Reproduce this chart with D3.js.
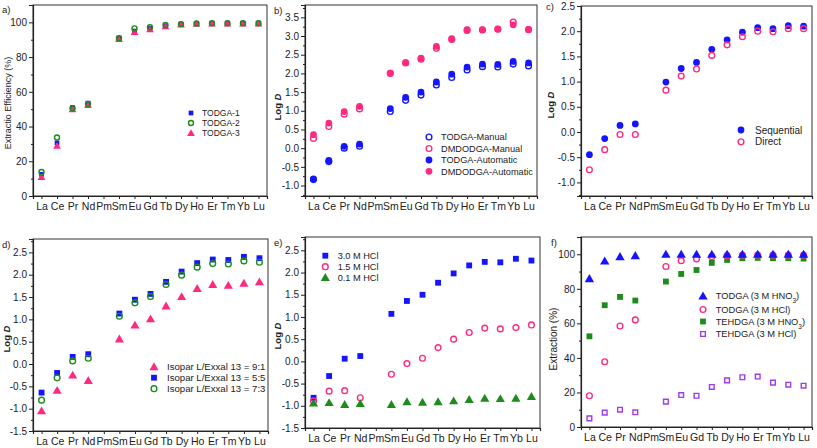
<!DOCTYPE html>
<html><head><meta charset="utf-8">
<script src="https://cdn.jsdelivr.net/npm/d3@7"></script>
<style>
html,body{margin:0;padding:0;background:#fff;}
text{font-family:"Liberation Sans",Arial,sans-serif;fill:#222;}
</style></head>
<body>
<svg id="chart" width="817" height="448"></svg>
<script>
const categories = ["La","Ce","Pr","Nd","Pm","Sm","Eu","Gd","Tb","Dy","Ho","Er","Tm","Yb","Lu"];

// a) Extraction efficiency (%)
const aTodga1 = [12.5, 30.6, 51, 53.5, null, 91, 95, 96.5, 98, 99, 99.3, 99.5, 99.5, 99.5, 99.5];
const aTodga2 = [13.8, 33.7, 50.5, 53, null, 90.8, 96.5, 97.2, 98.5, 99, 99.3, 99.5, 99.5, 99.5, 99.5];
const aTodga3 = [11, 29, 50, 52.5, null, 90.5, 94.5, 96, 97.8, 98.8, 99.2, 99.4, 99.4, 99.4, 99.4];

// b) Log D manual vs automatic
const bTodgaManual = [-0.84, -0.36, 0.0, 0.05, null, 0.98, 1.28, 1.42, 1.69, 1.89, 2.09, 2.18, 2.17, 2.25, 2.2];
const bDmdodgaManual = [0.26, 0.58, 0.91, 1.05, null, 2.0, 2.28, 2.38, 2.67, 2.91, 3.15, 3.16, 3.18, 3.37, 3.17];
const bTodgaAuto = [-0.82, -0.33, 0.05, 0.11, null, 1.06, 1.36, 1.5, 1.77, 1.98, 2.17, 2.25, 2.24, 2.32, 2.28];
const bDmdodgaAuto = [0.36, 0.67, 0.98, 1.12, null, 2.01, 2.29, 2.41, 2.72, 2.93, 3.17, 3.17, 3.19, 3.3, 3.18];

// c) Sequential vs direct
const cSequential = [-0.45, -0.13, 0.13, 0.16, null, 0.99, 1.26, 1.38, 1.64, 1.83, 1.98, 2.07, 2.05, 2.11, 2.1];
const cDirect = [-0.75, -0.35, -0.05, -0.05, null, 0.83, 1.11, 1.25, 1.52, 1.73, 1.89, 2.0, 1.99, 2.05, 2.05];

// d) Diluent ratio
const dRatio91 = [-1.05, -0.59, -0.25, -0.37, null, 0.56, 0.87, 1.01, 1.3, 1.51, 1.69, 1.78, 1.76, 1.81, 1.84];
const dRatio55 = [-0.64, -0.2, 0.16, 0.22, null, 1.13, 1.44, 1.57, 1.84, 2.07, 2.26, 2.34, 2.33, 2.4, 2.37];
const dRatio73 = [-0.81, -0.31, 0.07, 0.13, null, 1.07, 1.37, 1.51, 1.78, 1.99, 2.17, 2.25, 2.24, 2.31, 2.28];

// e) HCl concentration
const eHcl30 = [-0.82, -0.33, 0.06, 0.12, null, 1.07, 1.36, 1.5, 1.77, 1.98, 2.16, 2.24, 2.23, 2.31, 2.27];
const eHcl15 = [-0.89, -0.67, -0.66, -0.82, null, -0.29, -0.05, 0.07, 0.31, 0.5, 0.65, 0.75, 0.73, 0.76, 0.82];
const eHcl01 = [-0.94, -0.93, -0.97, -0.95, null, -0.97, -0.91, -0.92, -0.91, -0.89, -0.86, -0.83, -0.84, -0.83, -0.79];

// f) Extraction (%)
const fTodgaHno3 = [85.9, 96.1, 98.6, 99.2, null, 100, 100, 100, 100, 100, 100, 100, 100, 100, 100];
const fTodgaHcl = [18.1, 37.8, 58.5, 62, null, 92.9, 96.3, 97.3, 98.6, 99.2, 99.5, 99.5, 99.5, 99.5, 99.5];
const fTehdgaHno3 = [52.5, 70.5, 75.3, 73.2, null, 84.2, 88.6, 90.9, 95, 96.7, 97.7, 97.9, 97.7, 97.7, 97.5];
const fTehdgaHcl = [5.0, 8.3, 10.0, 8.5, null, 14.7, 18.5, 18.1, 23.2, 27, 28.8, 29.2, 25.7, 24.5, 23.9];

const BLUE = "#1414ff", PINK = "#ff2a80", GREEN = "#1c8c1c", PURPLE = "#9b3cf0";

const svg = d3.select("#chart");

function symPath(shape, size) {
  const t = shape === "circle" ? d3.symbolCircle : shape === "square" ? d3.symbolSquare : d3.symbolTriangle;
  return d3.symbol().type(t).size(size)();
}

function drawMarker(g, x, y, s) {
  const p = g.append("path").attr("d", symPath(s.shape, s.size))
    .attr("transform", `translate(${x},${y})` + (s.shape === "triangle" ? " translate(0,0.8)" : ""));
  if (s.open) p.attr("fill", "none").attr("stroke", s.color).attr("stroke-width", 1.4);
  else p.attr("fill", s.color).attr("stroke", "none");
}

function panel(cfg) {
  const g = svg.append("g");
  const x = d3.scalePoint().domain(categories).range([cfg.left, cfg.right]).padding(0.55);
  const y = d3.scaleLinear().domain(cfg.yDomain).range([cfg.bottom, cfg.top]);

  g.append("rect").attr("x", cfg.left).attr("y", cfg.top)
    .attr("width", cfg.right - cfg.left).attr("height", cfg.bottom - cfg.top)
    .attr("fill", "none").attr("stroke", "#333").attr("stroke-width", 1);

  const yMinor = d3.axisLeft(y).tickValues(cfg.yMinor).tickSize(2).tickFormat("");
  g.append("g").attr("transform", `translate(${cfg.left},0)`).call(yMinor)
    .call(a => a.select(".domain").remove())
    .call(a => a.selectAll("line").attr("stroke", "#222"));
  const yAxis = d3.axisLeft(y).tickValues(cfg.yMajor).tickSize(4).tickPadding(2).tickFormat(cfg.yFormat);
  g.append("g").attr("transform", `translate(${cfg.left},0)`).call(yAxis)
    .call(a => a.select(".domain").attr("stroke", "#222").attr("stroke-width", 1.2))
    .call(a => a.selectAll("line").attr("stroke", "#222"))
    .call(a => a.selectAll("text").attr("font-size", 10).attr("fill", "#222")
      .attr("font-family", "Liberation Sans, Arial, sans-serif"));

  const xAxis = d3.axisBottom(x).tickSize(3).tickPadding(4);
  g.append("g").attr("transform", `translate(0,${cfg.bottom})`).call(xAxis)
    .call(a => a.select(".domain").attr("stroke", "#222").attr("stroke-width", 1.2))
    .call(a => a.selectAll("line").attr("stroke", "#222"))
    .call(a => a.selectAll("text").attr("font-size", 10.5).attr("fill", "#222")
      .attr("font-family", "Liberation Sans, Arial, sans-serif"));

  cfg.series.forEach(s => {
    const sg = g.append("g");
    s.values.forEach((v, i) => {
      if (v === null) return;
      drawMarker(sg, x(categories[i]), y(v), s);
    });
  });

  const L = cfg.legend;
  L.order.forEach((idx, k) => {
    const s = cfg.series[idx];
    const yy = L.rows[k];
    drawMarker(g, L.mx, yy, s);
    const t = g.append("text").attr("x", L.tx).attr("y", yy).attr("dy", "0.36em")
      .attr("font-size", L.fontSize);
    s.label.forEach(part => {
      const ts = t.append("tspan").text(part.t);
      if (part.sub) ts.attr("baseline-shift", "sub").attr("font-size", L.fontSize * 0.7);
    });
  });

  const yt = g.append("text")
    .attr("transform", `translate(${cfg.titleX},${cfg.titleY}) rotate(-90)`)
    .attr("text-anchor", "middle").attr("dy", "0.35em").attr("font-size", cfg.titleSize);
  cfg.title.forEach(part => {
    const ts = yt.append("tspan").text(part.t);
    if (part.bold) ts.attr("font-weight", "bold");
    if (part.italic) ts.attr("font-style", "italic");
  });

  g.append("text").attr("x", cfg.letterX).attr("y", cfg.letterY).attr("font-size", 9.5).text(cfg.letter);
}

const fmtInt = d => d3.format("d")(d);
const fmt1 = d => d.toFixed(1);
const ticksPct = [0, 20, 40, 60, 80, 100];
const minorPct = [10, 30, 50, 70, 90, 110];
const logTitle = [{t: "Log ", bold: true}, {t: "D", bold: true, italic: true}];

panel({
  left: 33, right: 267, top: 5, bottom: 196, yDomain: [0, 110],
  yMajor: ticksPct, yMinor: minorPct, yFormat: fmtInt,
  series: [
    {values: aTodga1, shape: "square", size: 22, color: BLUE, open: false, label: [{t: "TODGA-1"}]},
    {values: aTodga3, shape: "triangle", size: 26, color: PINK, open: false, label: [{t: "TODGA-3"}]},
    {values: aTodga2, shape: "circle", size: 20, color: GREEN, open: true, label: [{t: "TODGA-2"}]}
  ],
  legend: {mx: 191, tx: 202, rows: [113, 123, 133], order: [0, 2, 1], fontSize: 8.5},
  title: [{t: "Extractio Efficiency (%)"}], titleX: 7.5, titleY: 103, titleSize: 9,
  letter: "a)", letterX: 2, letterY: 13
});

panel({
  left: 305, right: 537, top: 5, bottom: 196, yDomain: [-1.28, 3.83],
  yMajor: d3.range(-1, 3.51, 0.5), yMinor: d3.range(-1.25, 3.8, 0.5), yFormat: fmt1,
  series: [
    {values: bTodgaManual, shape: "circle", size: 26, color: BLUE, open: true, label: [{t: "TODGA-Manual"}]},
    {values: bDmdodgaManual, shape: "circle", size: 26, color: PINK, open: true, label: [{t: "DMDODGA-Manual"}]},
    {values: bTodgaAuto, shape: "circle", size: 36, color: BLUE, open: false, label: [{t: "TODGA-Automatic"}]},
    {values: bDmdodgaAuto, shape: "circle", size: 36, color: PINK, open: false, label: [{t: "DMDODGA-Automatic"}]}
  ],
  legend: {mx: 429, tx: 441, rows: [137, 148.5, 160, 171.3], order: [0, 1, 2, 3], fontSize: 9.2},
  title: logTitle, titleX: 277.5, titleY: 107, titleSize: 9.5,
  letter: "b)", letterX: 274, letterY: 14
});

panel({
  left: 581, right: 812, top: 6, bottom: 196, yDomain: [-1.27, 2.5],
  yMajor: d3.range(-1, 2.51, 0.5), yMinor: d3.range(-1.25, 2.5, 0.5), yFormat: fmt1,
  series: [
    {values: cSequential, shape: "circle", size: 36, color: BLUE, open: false, label: [{t: "Sequential"}]},
    {values: cDirect, shape: "circle", size: 26, color: PINK, open: true, label: [{t: "Direct"}]}
  ],
  legend: {mx: 741, tx: 755, rows: [130, 141.8], order: [0, 1], fontSize: 10},
  title: logTitle, titleX: 551, titleY: 105, titleSize: 9.5,
  letter: "c)", letterX: 546, letterY: 10
});

panel({
  left: 33, right: 268, top: 239, bottom: 431, yDomain: [-1.5, 2.8],
  yMajor: d3.range(-1.5, 2.51, 0.5), yMinor: d3.range(-1.25, 2.8, 0.5), yFormat: fmt1,
  series: [
    {values: dRatio91, shape: "triangle", size: 36, color: PINK, open: false, label: [{t: "Isopar L/Exxal 13 = 9:1"}]},
    {values: dRatio55, shape: "square", size: 34, color: BLUE, open: false, label: [{t: "Isopar L/Exxal 13 = 5:5"}]},
    {values: dRatio73, shape: "circle", size: 26, color: GREEN, open: true, label: [{t: "Isopar L/Exxal 13 = 7:3"}]}
  ],
  legend: {mx: 154, tx: 167, rows: [366.7, 377.7, 388.7], order: [0, 1, 2], fontSize: 9.6},
  title: logTitle, titleX: 6.5, titleY: 339, titleSize: 9.5,
  letter: "d)", letterX: 2, letterY: 248
});

panel({
  left: 305, right: 540, top: 237, bottom: 428, yDomain: [-1.5, 2.8],
  yMajor: d3.range(-1.5, 2.51, 0.5), yMinor: d3.range(-1.25, 2.8, 0.5), yFormat: fmt1,
  series: [
    {values: eHcl30, shape: "square", size: 34, color: BLUE, open: false, label: [{t: "3.0 M HCl"}]},
    {values: eHcl15, shape: "circle", size: 26, color: PINK, open: true, label: [{t: "1.5 M HCl"}]},
    {values: eHcl01, shape: "triangle", size: 36, color: GREEN, open: false, label: [{t: "0.1 M HCl"}]}
  ],
  legend: {mx: 325.3, tx: 337.7, rows: [255.7, 266.7, 277.5], order: [0, 1, 2], fontSize: 9.2},
  title: logTitle, titleX: 277.5, titleY: 336, titleSize: 9.5,
  letter: "e)", letterX: 274, letterY: 246
});

panel({
  left: 581, right: 812, top: 237, bottom: 427, yDomain: [0, 110],
  yMajor: ticksPct, yMinor: minorPct, yFormat: fmtInt,
  series: [
    {values: fTehdgaHcl, shape: "square", size: 22, color: PURPLE, open: true, label: [{t: "TEHDGA (3 M HCl)"}]},
    {values: fTehdgaHno3, shape: "square", size: 34, color: GREEN, open: false, label: [{t: "TEHDGA (3 M HNO"}, {t: "3", sub: true}, {t: ")"}]},
    {values: fTodgaHcl, shape: "circle", size: 26, color: PINK, open: true, label: [{t: "TODGA (3 M HCl)"}]},
    {values: fTodgaHno3, shape: "triangle", size: 38, color: BLUE, open: false, label: [{t: "TODGA (3 M HNO"}, {t: "3", sub: true}, {t: ")"}]}
  ],
  legend: {mx: 703, tx: 715.7, rows: [296, 309.5, 321.5, 334], order: [3, 2, 1, 0], fontSize: 9.3},
  title: [{t: "Extraction (%)"}], titleX: 553, titleY: 339, titleSize: 10,
  letter: "f)", letterX: 551, letterY: 246
});
</script>
</body></html>
